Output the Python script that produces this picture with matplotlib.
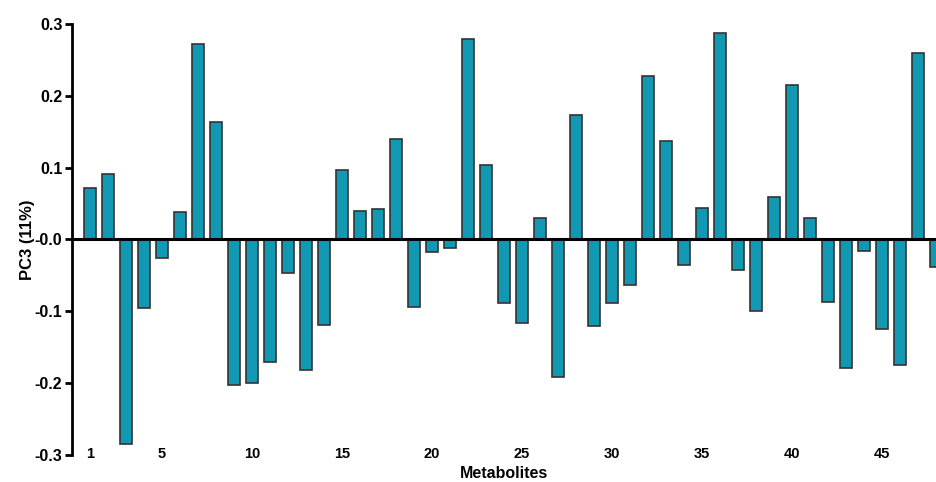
import matplotlib
matplotlib.use('Agg')
import matplotlib.pyplot as plt
import numpy as np

# PC3 loadings, metabolites 1..48
metabolites = list(range(1, 49))
pc3 = [0.072, 0.091, -0.284, -0.096, -0.026, 0.038, 0.272, 0.163,
       -0.202, -0.200, -0.171, -0.047, -0.182, -0.119, 0.097, 0.039,
       0.042, 0.140, -0.094, -0.018, -0.012, 0.279, 0.104, -0.089,
       -0.116, 0.030, -0.192, 0.174, -0.121, -0.088, -0.063, 0.227,
       0.137, -0.035, 0.044, 0.288, -0.043, -0.100, 0.059, 0.215,
       0.030, -0.087, -0.179, -0.016, -0.125, -0.175, 0.260, -0.038]
xtick_pos = [1, 5, 10, 15, 20, 25, 30, 35, 40, 45]
ytick_pos = [-0.3, -0.2, -0.1, 0.0, 0.1, 0.2, 0.3]
ytick_labels = ['-0.3', '-0.2', '-0.1', '-0.0', '0.1', '0.2', '0.3']

plt.rcParams['font.family'] = ['Liberation Sans', 'DejaVu Sans']

fig = plt.figure(figsize=(9.37, 4.82), dpi=100)
ax = fig.add_axes([72 / 937, 27 / 482, 1 - 72 / 937, 431 / 482])

ax.bar(metabolites, pc3, width=0.68, color='#1199b4', edgecolor='#333333',
       linewidth=1.2, zorder=2)
ax.axhline(0, color='black', linewidth=2.2, zorder=3)

ax.set_xlim(0, 48.06)
ax.set_ylim(-0.3, 0.3)

for side in ['top', 'right', 'bottom']:
    ax.spines[side].set_visible(False)
ax.spines['left'].set_linewidth(2)

ax.set_yticks(ytick_pos)
ax.set_yticklabels(ytick_labels)
ax.set_xticks(xtick_pos)
ax.set_xticklabels([str(v) for v in xtick_pos])
ax.tick_params(axis='y', length=5, width=2, labelsize=11.5, pad=2)
ax.tick_params(axis='x', length=0, labelsize=10.5, pad=-6)
for lbl in ax.get_xticklabels() + ax.get_yticklabels():
    lbl.set_fontweight('bold')

ax.set_ylabel('PC3 (11%)', fontsize=12, fontweight='bold', labelpad=0)
ax.set_xlabel('Metabolites', fontsize=11.5, fontweight='bold', labelpad=4)

fig.savefig('out.png', dpi=100)
